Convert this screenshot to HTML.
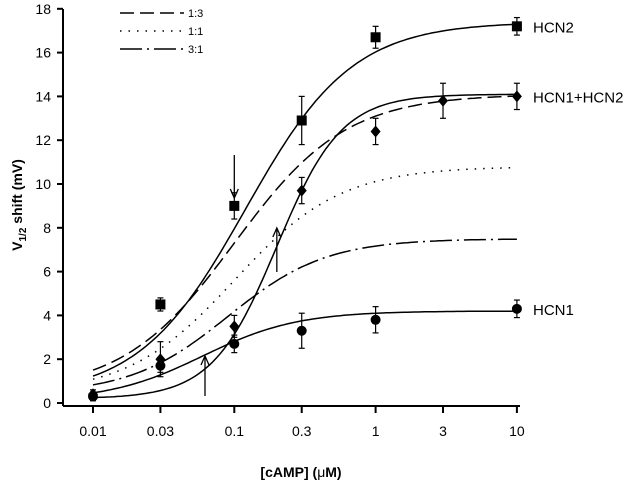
<!DOCTYPE html>
<html><head><meta charset="utf-8"><style>
body{margin:0;background:#fff}
svg{display:block;font-family:"Liberation Sans",Arial,sans-serif}
</style></head><body>
<svg id="c" width="640" height="484" viewBox="0 0 640 484"></svg>
<script>
const xTicks=[0.01,0.03,0.1,0.3,1,3,10];
const xTickLabels=["0.01","0.03","0.1","0.3","1","3","10"];
const yTicks=[0,2,4,6,8,10,12,14,16,18];
const hcn2X=[0.03,0.1,0.3,1,10];
const hcn2Y=[4.5,9.0,12.9,16.7,17.2];
const hcn2Err=[0.3,0.6,1.1,0.5,0.4];
const hetX=[0.01,0.03,0.1,0.3,1,3,10];
const hetY=[0.4,2.0,3.5,9.7,12.4,13.8,14.0];
const hetErr=[0.2,0.8,0.5,0.6,0.6,0.8,0.6];
const hcn1X=[0.01,0.03,0.1,0.3,1,10];
const hcn1Y=[0.3,1.7,2.7,3.3,3.8,4.3];
const hcn1Err=[0.2,0.3,0.4,0.8,0.6,0.4];
// Hill fit params: [min, max, EC50, n]
const fitHCN2=[0.3,17.4,0.12,1.15];
const fitHet=[0.2,14.1,0.2,1.9];
const fitHCN1=[0.1,4.2,0.06,1.3];
const fit13=[0.5,14.1,0.1,1.1];
const fit11=[0.4,10.8,0.1,1.15];
const fit31=[0.4,7.5,0.09,1.25];

const NS="http://www.w3.org/2000/svg",svg=document.getElementById('c');
const X=v=>93+(Math.log10(v)+2)*141.3, Y=v=>403-v*21.9;
function el(t,a,p){const e=document.createElementNS(NS,t);for(const k in a)e.setAttribute(k,a[k]);(p||svg).appendChild(e);return e;}
let e;
e=el('line',{x1:63,y1:9,x2:63,y2:406,stroke:'#000','stroke-width':2});


e=el('line',{x1:63,y1:406,x2:520,y2:406,stroke:'#000','stroke-width':2});


yTicks.forEach(t=>{el('line',{x1:57,x2:63,y1:Y(t),y2:Y(t),stroke:'#000','stroke-width':2});
 e=el('text',{x:51,y:Y(t)+5,'text-anchor':'end','font-size':14});e.textContent=t;
 
 });
xTicks.forEach((t,i)=>{el('line',{x1:X(t),x2:X(t),y1:406,y2:413,stroke:'#000','stroke-width':2});
 e=el('text',{x:X(t),y:436,'text-anchor':'middle','font-size':14});e.textContent=xTickLabels[i];
 
 });
e=el('text',{x:301,y:477,'text-anchor':'middle','font-size':14,'font-weight':'bold'});e.innerHTML='[cAMP] (<tspan font-weight="normal">μ</tspan>M)';


e=el('text',{transform:'translate(22,205) rotate(-90)','text-anchor':'middle','font-size':14,'font-weight':'bold'});
e.innerHTML='V<tspan font-size="10" dy="4">1/2</tspan><tspan dy="-4"> shift (mV)</tspan>';


function curve(p,dash,name){let d='';for(let i=0;i<=120;i++){const lx=-2+3*i/120,c=Math.pow(10,lx);
 const v=p[0]+(p[1]-p[0])/(1+Math.pow(p[2]/c,p[3]));d+=(i?'L':'M')+X(c).toFixed(1)+','+Y(v).toFixed(1);}
 const a={d:d,fill:'none',stroke:'#000','stroke-width':1.5};if(dash)a['stroke-dasharray']=dash;
 const e=el('path',a);}
curve(fitHCN2,null,'hcn2-fit');curve(fitHet,null,'hcn1-hcn2-fit');curve(fitHCN1,null,'hcn1-fit');
curve(fit13,'14,6','ratio-1-3-curve');curve(fit11,'1.5,7','ratio-1-1-curve');curve(fit31,'22,5,2,5','ratio-3-1-curve');
function pts(xs,ys,er,shape,name){xs.forEach((x,i)=>{const cx=X(x),cy=Y(ys[i]),eh=er[i]*21.9;
 el('line',{x1:cx,x2:cx,y1:cy-eh,y2:cy+eh,stroke:'#000','stroke-width':1.2});
 el('line',{x1:cx-3,x2:cx+3,y1:cy-eh,y2:cy-eh,stroke:'#000','stroke-width':1.2});
 el('line',{x1:cx-3,x2:cx+3,y1:cy+eh,y2:cy+eh,stroke:'#000','stroke-width':1.2});
 let m;if(shape==='s')m=el('rect',{x:cx-5,y:cy-5,width:10,height:10});
 else if(shape==='d')m=el('polygon',{points:`${cx},${cy-6} ${cx+5},${cy} ${cx},${cy+6} ${cx-5},${cy}`});
 else m=el('circle',{cx:cx,cy:cy,r:5});
 
 });}
pts(hcn2X,hcn2Y,hcn2Err,'s','hcn2-point');pts(hetX,hetY,hetErr,'d','hcn1-hcn2-point');pts(hcn1X,hcn1Y,hcn1Err,'c','hcn1-point');
[['HCN2',hcn2Y[4]],['HCN1+HCN2',hetY[6]],['HCN1',hcn1Y[5]]].forEach(l=>{e=el('text',{x:533,y:Y(l[1])+6,'font-size':15});e.textContent=l[0];
 
 });
function arrow(x,y1,y2,name){const g=el('g',{stroke:'#000','stroke-width':1.3,fill:'none'});el('line',{x1:x,x2:x,y1:y1,y2:y2},g);
 const s=y2>y1?-1:1;el('path',{d:`M${x-4},${y2+s*9}L${x},${y2}L${x+4},${y2+s*9}`},g);
 }
arrow(X(0.1),155,198,'ec50-arrow-hcn2');arrow(X(0.2),272,228,'ec50-arrow-heteromer');arrow(205,396,356,'ec50-arrow-hcn1');
const leg=[['1:3','14,6'],['1:1','1.5,7'],['3:1','22,5,2,5']];
leg.forEach((l,i)=>{const y=13+i*18;const g=el('g',{});
 const a={x1:120,x2:184,y1:y,y2:y,stroke:'#000','stroke-width':1.5,'stroke-dasharray':l[1]};el('line',a,g);
 const t=el('text',{x:188,y:y+4,'font-size':11},g);t.textContent=l[0];
 });
</script>
</body></html>
